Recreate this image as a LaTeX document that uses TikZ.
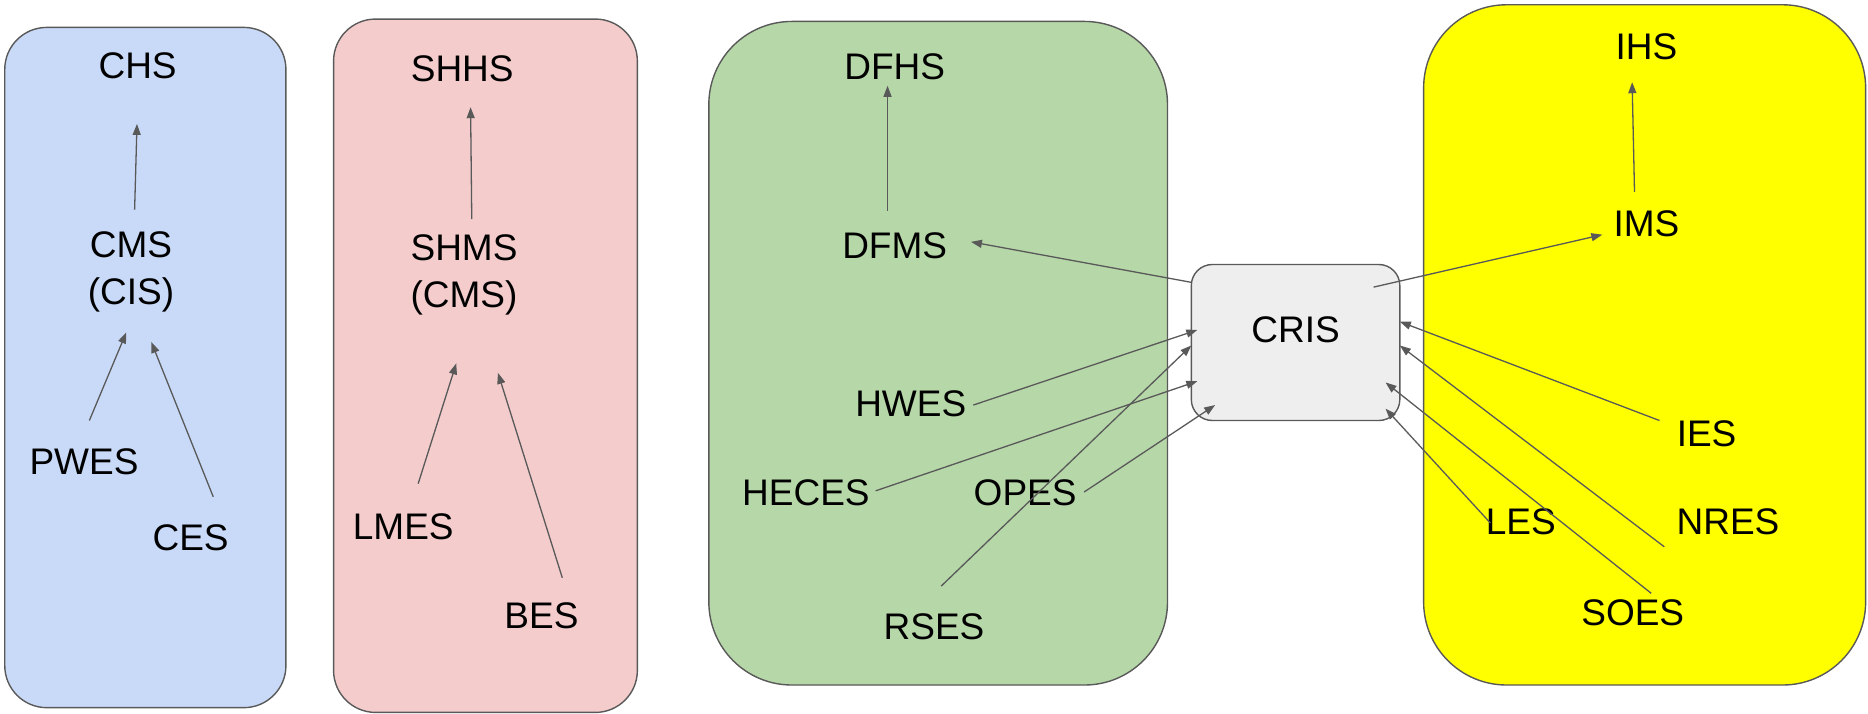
\documentclass[tikz,border=0pt]{standalone}
\usepackage{fontspec}
\setmainfont{Liberation Sans}
\usetikzlibrary{arrows.meta}
\definecolor{edgegray}{HTML}{595959}
\definecolor{grpblue}{HTML}{C9DAF8}
\definecolor{grppink}{HTML}{F4CCCC}
\definecolor{grpgreen}{HTML}{B6D7A8}
\definecolor{grpyellow}{HTML}{FFFF00}
\definecolor{crisfill}{HTML}{EEEEEE}
\begin{document}
\begin{tikzpicture}[x=1.1913pt,y=-1.1913pt,
  lbl/.style={font=\fontsize{37}{47.7}\selectfont, inner sep=0pt, align=center, text=black},
  arr/.style={draw=edgegray, line width=1.3pt, -{Triangle[length=11pt,width=8pt]}},
  grp/.style={draw=edgegray, line width=1.4pt}]
\useasboundingbox (0,0) rectangle (1568,599);
% group boxes
\draw[grp, fill=grpblue, rounded corners=42pt] (4,23) rectangle (240,594);
\draw[grp, fill=grppink, rounded corners=42pt] (280,16) rectangle (535,598);
\draw[grp, fill=grpgreen, rounded corners=83pt] (595,18) rectangle (980,575);
\draw[grp, fill=grpyellow, rounded corners=83pt] (1195,4) rectangle (1566,575);
% central node
\node[grp, fill=crisfill, rounded corners=21pt, minimum width=208.5pt, minimum height=156pt,
      font=\fontsize{37}{47.7}\selectfont, text height=26.5pt, text depth=27.4pt, inner sep=0pt]
      (cris) at (1087.5,287.5) {CRIS};
% labels
\node[lbl] (chs) at (115.5,55) {CHS};
\node[lbl] (cms) at (110,228.3) {CMS\\(CIS)};
\node[lbl] (pwes) at (70.5,388) {PWES};
\node[lbl] (ces) at (160,451) {CES};
\node[lbl] (shhs) at (388,58) {SHHS};
\node[lbl] (shms) at (389.5,230.8) {SHMS\\(CMS)};
\node[lbl] (lmes) at (338.5,442) {LMES};
\node[lbl] (bes) at (454.5,517) {BES};
\node[lbl] (dfhs) at (751,56) {DFHS};
\node[lbl] (dfms) at (751,206) {DFMS};
\node[lbl] (hwes) at (764.5,339) {HWES};
\node[lbl] (heces) at (676.5,414) {HECES};
\node[lbl] (opes) at (860.5,414) {OPES};
\node[lbl] (rses) at (784,526) {RSES};
\node[lbl] (ihs) at (1382,39) {IHS};
\node[lbl] (ims) at (1382,188) {IMS};
\node[lbl] (ies) at (1432.5,364) {IES};
\node[lbl] (les) at (1276.5,438) {LES};
\node[lbl] (nres) at (1450.5,438) {NRES};
\node[lbl] (soes) at (1370.5,514) {SOES};
% connectors
\draw[arr] ([shift={(3,-52.3)}]cms.center) -- ([shift={(-0.5,49)}]chs.center);
\draw[arr] ([shift={(4.5,-35)}]pwes.center) -- ([shift={(-4,50.7)}]cms.center);
\draw[arr] ([shift={(19,-34)}]ces.center) -- ([shift={(17,58.7)}]cms.center);
\draw[arr] ([shift={(6.5,-46.8)}]shms.center) -- ([shift={(7,32)}]shhs.center);
\draw[arr] ([shift={(12.5,-36)}]lmes.center) -- ([shift={(-6.5,74.2)}]shms.center);
\draw[arr] ([shift={(17.5,-32)}]bes.center) -- ([shift={(28.5,82.2)}]shms.center);
\draw[arr] ([shift={(-6,-29)}]dfms.center) -- ([shift={(-6,16)}]dfhs.center);
\draw[arr] ([shift={(-87.5,-50.5)}]cris.center) -- ([shift={(64,-3)}]dfms.center);
\draw[arr] ([shift={(52.5,1)}]hwes.center) -- ([shift={(-82.5,-10.5)}]cris.center);
\draw[arr] ([shift={(58.5,-2)}]heces.center) -- ([shift={(-82.5,32.5)}]cris.center);
\draw[arr] ([shift={(6,-34)}]rses.center) -- ([shift={(-87.5,2.5)}]cris.center);
\draw[arr] ([shift={(49.5,-1)}]opes.center) -- ([shift={(-67.5,52.5)}]cris.center);
\draw[arr] ([shift={(65.5,-46.5)}]cris.center) -- ([shift={(-37,9)}]ims.center);
\draw[arr] ([shift={(-10,-27)}]ims.center) -- ([shift={(-12,30)}]ihs.center);
\draw[arr] ([shift={(-39.5,-11)}]ies.center) -- ([shift={(87.5,-17.5)}]cris.center);
\draw[arr] ([shift={(-53.5,21)}]nres.center) -- ([shift={(87.5,2.5)}]cris.center);
\draw[arr] ([shift={(15.5,-16)}]soes.center) -- ([shift={(75.5,33.5)}]cris.center);
\draw[arr] ([shift={(-25.5,1)}]les.center) -- ([shift={(75.5,55.5)}]cris.center);
\end{tikzpicture}
\end{document}
